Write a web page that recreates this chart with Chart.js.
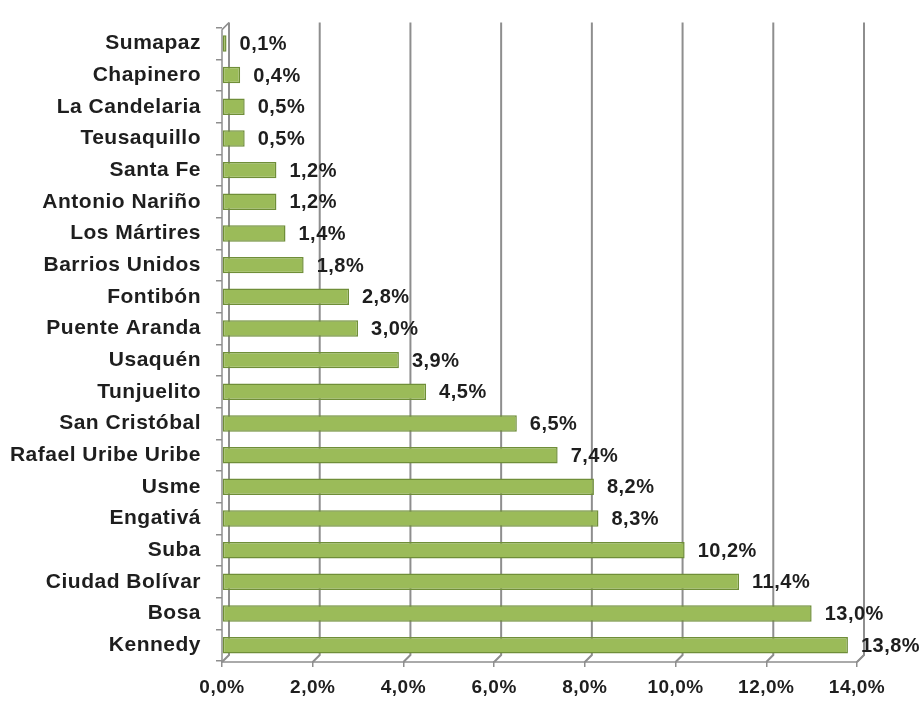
<!DOCTYPE html>
<html>
<head>
<meta charset="utf-8">
<script src="https://cdn.jsdelivr.net/npm/chart.js@4.4.1/dist/chart.umd.min.js"></script>
<style>
  html, body { margin: 0; padding: 0; background: #ffffff; }
  #wrap { width: 924px; height: 702px; }
</style>
</head>
<body>
<div id="wrap"><canvas id="c" width="924" height="702"></canvas></div>
<script>
const categories = ["Sumapaz", "Chapinero", "La Candelaria", "Teusaquillo", "Santa Fe", "Antonio Nariño", "Los Mártires", "Barrios Unidos", "Fontibón", "Puente Aranda", "Usaquén", "Tunjuelito", "San Cristóbal", "Rafael Uribe Uribe", "Usme", "Engativá", "Suba", "Ciudad Bolívar", "Bosa", "Kennedy"];
const values = [0.1, 0.4, 0.5, 0.5, 1.2, 1.2, 1.4, 1.8, 2.8, 3.0, 3.9, 4.5, 6.5, 7.4, 8.2, 8.3, 10.2, 11.4, 13.0, 13.8];
const tickValues = [0, 2, 4, 6, 8, 10, 12, 14];

const FONT = "'Liberation Sans', Arial, sans-serif";
const GRID = '#8e8e8e';
const SPACING = '0.5px';
const fmt = v => v.toFixed(1).replace('.', ',') + '%';

const spacingPlugin = {
  id: 'spacing',
  beforeInit(chart) { chart.ctx.letterSpacing = SPACING; },
  beforeUpdate(chart) { chart.ctx.letterSpacing = SPACING; },
  beforeDraw(chart) { chart.ctx.letterSpacing = SPACING; }
};

const wallPlugin = {
  id: 'wall',
  beforeDatasetsDraw(chart) {
    const { ctx, chartArea, scales } = chart;
    const x = scales.x;
    const d = 7; // 3D depth offset
    ctx.save();
    ctx.strokeStyle = GRID;
    ctx.lineWidth = 2;
    tickValues.forEach(v => {
      const px = x.getPixelForValue(v);
      ctx.beginPath();
      ctx.moveTo(px + d, chartArea.top - 5);
      ctx.lineTo(px + d, chartArea.bottom - 6);
      ctx.lineTo(px, chartArea.bottom + 1);
      ctx.stroke();
    });
    ctx.lineWidth = 1.5;
    ctx.beginPath();
    ctx.moveTo(chartArea.left, chartArea.top + 2);
    ctx.lineTo(chartArea.left, chartArea.bottom + 1);
    ctx.moveTo(chartArea.left, chartArea.top + 2);
    ctx.lineTo(chartArea.left + d, chartArea.top - 5);
    ctx.stroke();
    ctx.beginPath();
    ctx.moveTo(chartArea.left, chartArea.bottom + 1);
    ctx.lineTo(x.getPixelForValue(14), chartArea.bottom + 1);
    ctx.lineTo(x.getPixelForValue(14) + d, chartArea.bottom - 6);
    ctx.stroke();
    ctx.restore();
  }
};

const labelPlugin = {
  id: 'valueLabels',
  afterDatasetsDraw(chart) {
    const { ctx } = chart;
    const meta = chart.getDatasetMeta(0);
    ctx.save();
    ctx.font = 'bold 20px ' + FONT;
    ctx.fillStyle = '#1e1e1e';
    ctx.textBaseline = 'middle';
    ctx.textAlign = 'left';
    meta.data.forEach((el, i) => {
      ctx.fillText(fmt(values[i]), el.x + 13, el.y + 1);
    });
    ctx.restore();
  }
};

function barFill(context) {
  const el = context.element;
  if (!el || el.y === undefined || !isFinite(el.y)) return '#9bbb59';
  const h = el.height || 15;
  const g = context.chart.ctx.createLinearGradient(0, el.y - h / 2, 0, el.y + h / 2);
  g.addColorStop(0, '#a9c96a');
  g.addColorStop(0.35, '#9dbd5b');
  g.addColorStop(1, '#8fae4c');
  return g;
}

new Chart(document.getElementById('c'), {
  type: 'bar',
  data: {
    labels: categories,
    datasets: [{
      data: values,
      backgroundColor: barFill,
      borderColor: '#6f8e38',
      borderWidth: 1.5,
      borderSkipped: false,
      barPercentage: 0.52,
      categoryPercentage: 1.0
    }]
  },
  options: {
    indexAxis: 'y',
    responsive: false,
    animation: false,
    devicePixelRatio: 1,
    layout: { padding: { top: 22, right: 67, left: 0, bottom: 0 } },
    plugins: {
      legend: { display: false },
      tooltip: { enabled: false },
      title: { display: false }
    },
    scales: {
      x: {
        min: 0,
        max: 14,
        afterBuildTicks: s => { s.ticks = tickValues.map(v => ({ value: v })); },
        afterFit: s => { s.height = 41; },
        border: { display: false },
        grid: { display: true, drawOnChartArea: false, drawTicks: true, tickLength: 6, color: GRID, lineWidth: 1.5 },
        ticks: {
          padding: 9,
          color: '#1e1e1e',
          font: { family: FONT, size: 19, weight: 'bold' },
          callback: v => fmt(v)
        }
      },
      y: {
        afterFit: s => { s.width = 222; },
        border: { display: false },
        grid: { display: true, drawOnChartArea: false, drawTicks: true, tickLength: 6, color: GRID, lineWidth: 1.5, offset: true },
        ticks: {
          padding: 15,
          color: '#1e1e1e',
          font: { family: FONT, size: 21, weight: 'bold' }
        }
      }
    }
  },
  plugins: [spacingPlugin, wallPlugin, labelPlugin]
});
</script>
</body>
</html>
